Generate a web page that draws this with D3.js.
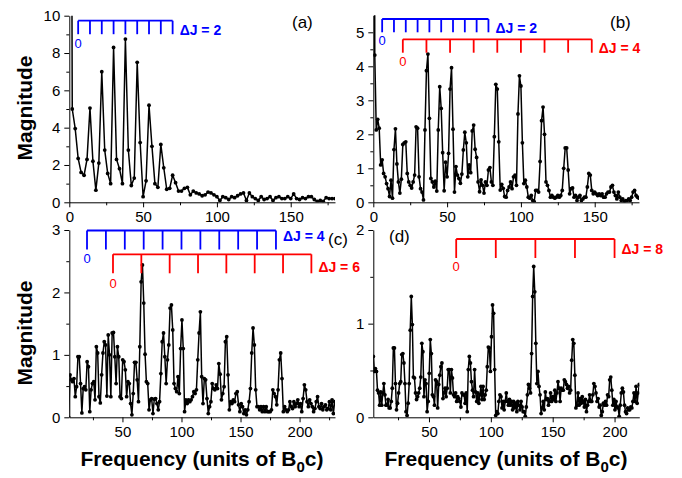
<!DOCTYPE html>
<html>
<head>
<meta charset="utf-8">
<script src="https://cdn.jsdelivr.net/npm/d3@7"></script>
<style>
  body { margin: 0; background: #fff; }
  svg { display: block; font-family: "Liberation Sans", Arial, Helvetica, sans-serif; }
</style>
</head>
<body>
<div id="chart"></div>
<script>
const width = 682;
const height = 478;

// Panel (a): magnitude every 2 units of B0c, starting at 0
const freqStartA = 0, freqStepA = 2;
const magA = [
  60, 5.0, 3.95, 2.35, 1.6, 1.45, 2.3, 5.05, 2.2, 0.65,
  2.1, 7.0, 2.8, 1.55, 1.0, 8.3, 2.3, 1.8, 1.0, 8.75,
  2.8, 0.9, 1.3, 7.5, 3.2, 0.3, 1.15, 5.2, 3.0, 1.0,
  0.8, 3.1, 1.85, 0.7, 0.75, 1.45, 1.05, 0.6, 0.6, 0.75,
  0.8, 0.4, 0.6, 0.5, 0.45, 0.35, 0.4, 0.55, 0.5, 0.4,
  0.3, 0.1, 0.3, 0.25, 0.15, 0.3, 0.25, 0.35, 0.45, 0.5,
  0.1, 0.5, 0.3, 0.2, 0.1, 0.3, 0.15, 0.2, 0.3, 0.1,
  0.25, 0.3, 0.2, 0.2, 0.3, 0.2, 0.45, 0.2, 0.15, 0.25,
  0.2, 0.3, 0.3, 0.15, 0.05, 0.1, 0.05, 0.25, 0.2, 0.2,
  0.2
];

// Panel (b): magnitude every unit, starting at 0
const freqStartB = 0, freqStepB = 1;
const magB = [
  30, 4.33, 2.13, 2.44, 2.18, 1.1, 1.25, 0.85, 0.75, 0.55,
  0.4, 0.17, 0.65, 0.12, 1.55, 2.16, 1.13, 0.6, 0.27, 0.68,
  1.7, 1.75, 1.78, 0.85, 0.6, 0.5, 0.42, 0.6, 0.8, 2.22,
  2.18, 0.75, 0.4, 0.3, 0.07, 2.13, 3.87, 4.36, 2.47, 0.7,
  0.6, 0.45, 0.62, 0.33, 2.13, 3.4, 2.76, 1.46, 0.34, 1.18,
  0.75, 1.44, 3.33, 3.96, 2.15, 0.3, 1.05, 0.8, 0.7, 0.56,
  0.83, 1.54, 2.06, 1.75, 0.75, 1.1, 0.87, 2.1, 2.27, 1.56,
  1.32, 0.6, 0.31, 0.66, 0.5, 0.27, 0.6, 0.5, 0.95, 1.02,
  0.6, 0.5, 1.93, 3.47, 3.33, 1.78, 0.36, 0.53, 0.41, 0.17,
  0.15, 0.35, 0.45, 0.6, 0.4, 0.75, 0.8, 0.5, 2.6, 3.72,
  3.42, 1.75, 0.55, 0.65, 0.45, 0.15, 0.12, 0.2, 0.05, 0.02,
  0.35, 0.35, 0.3, 1.2, 2.4, 2.8, 2.0, 0.6, 0.5, 0.35,
  0.15, 0.2, 0.15, 0.12, 0.15, 0.2, 0.15, 0.2, 0.35, 1.0,
  1.6, 1.6, 0.95, 0.25, 0.4, 0.42, 0.15, 0.2, 0.05, 0.15,
  0.2, 0.05, 0.1, 0.15, 0.15, 0.45, 0.85, 0.8, 0.35, 0.25,
  0.3, 0.25, 0.2, 0.25, 0.2, 0.25, 0.15, 0.15, 0.25, 0.3,
  0.3, 0.45, 0.5, 0.3, 0.2, 0.1, 0.3, 0.15, 0.05, 0.1,
  0.0, 0.05, 0.05, 0.1, 0.05, 0.15, 0.3, 0.35, 0.2, 0.15,
  0.12
];

// Panel (c)
const freqStartC = 4.5, freqStepC = 1.115;
const magC = [
  0.0,
  0.68, 0.6, 0.57, 0.62, 0.33, 0.49, 0.97, 0.97, 0.54, 0.07,
  0.46, 0.49, 0.44, 0.89, 0.81, 0.09, 0.44, 0.54, 0.57, 0.28,
  1.13, 1.03, 0.33, 0.23, 0.68, 1.03, 1.21, 1.16, 0.34, 1.32,
  1.0, 0.33, 1.35, 1.36, 0.97, 0.54, 1.13, 0.97, 0.33, 0.3,
  0.92, 0.89, 0.76, 0.33, 0.57, 0.54, 0.22, 0.04, 0.38, 0.88,
  0.88, 0.6, 0.25, 1.13, 2.17, 2.44, 1.83, 1.01, 0.57, 0.54,
  0.12, 0.28, 0.3, 0.06, 0.29, 0.3, 0.22, 0.12, 0.25, 0.7,
  1.21, 1.35, 0.97, 0.54, 0.92, 1.16, 1.75, 1.8, 1.4, 0.54,
  0.46, 0.41, 0.65, 0.38, 1.1, 1.56, 1.1, 0.09, 0.28, 0.22,
  0.28, 0.25, 0.28, 0.33, 0.41, 0.38, 0.44, 0.92, 1.35, 1.69,
  0.65, 0.22, 0.62, 0.6, 0.3, 0.06, 0.17, 0.25, 0.54, 0.46,
  0.44, 0.52, 0.46, 0.86, 0.69, 0.28, 0.38, 0.49, 1.21, 1.29,
  0.68, 0.12, 0.25, 0.22, 0.28, 0.25, 0.38, 0.41, 0.2, 0.09,
  0.22, 0.17, 0.06, 0.12, 0.04, 0.12, 0.25, 0.46, 1.03, 1.43,
  1.16, 0.44, 0.17, 0.17, 0.12, 0.17, 0.09, 0.17, 0.09, 0.17,
  0.09, 0.09, 0.09, 0.12, 0.44, 0.38, 0.33, 0.2, 0.44, 0.92,
  1.03, 0.62, 0.09, 0.17, 0.12, 0.09, 0.12, 0.25, 0.17, 0.14,
  0.25, 0.17, 0.22, 0.28, 0.17, 0.22, 0.09, 0.3, 0.52, 0.44,
  0.25, 0.17, 0.28, 0.22, 0.17, 0.09, 0.14, 0.25, 0.33, 0.17,
  0.14, 0.22, 0.12, 0.17, 0.2, 0.12, 0.14, 0.25, 0.12, 0.28,
  0.06, 0.25
];

// Panel (d)
const freqStartD = 5, freqStepD = 0.853;
const magD = [
  0.65, 0.49, 0.52, 0.49, 0.29, 0.26, 0.13, 0.27, 0.13, 0.26,
  0.36, 0.24, 0.13, 0.13, 0.19, 0.1, 0.1, 0.17, 0.31, 0.74,
  0.74, 0.36, 0.08, 0.15, 0.26, 0.36, 0.38, 0.67, 0.68, 0.58,
  0.36, 0.06, 0.02, 0.15, 0.36, 0.93, 1.29, 0.99, 0.43, 0.42,
  0.26, 0.19, 0.22, 0.26, 0.31, 0.43, 0.79, 0.7, 0.22, 0.4,
  0.36, 0.06, 0.17, 0.47, 0.83, 0.68, 0.24, 0.22, 0.13, 0.4,
  0.38, 0.1, 0.35, 0.45, 0.54, 0.58, 0.2, 0.26, 0.31, 0.22,
  0.31, 0.51, 0.51, 0.26, 0.51, 0.42, 0.24, 0.22, 0.26, 0.17,
  0.22, 0.2, 0.17, 0.11, 0.26, 0.24, 0.24, 0.15, 0.26, 0.06,
  0.51, 0.65, 0.58, 0.38, 0.29, 0.22, 0.51, 0.27, 0.17, 0.26,
  0.15, 0.24, 0.33, 0.19, 0.33, 0.19, 0.24, 0.29, 0.54, 0.75,
  0.74, 0.49, 0.86, 1.2, 1.11, 0.51, 0.02, 0.06, 0.04, 0.17,
  0.24, 0.22, 0.1, 0.17, 0.08, 0.17, 0.26, 0.17, 0.13, 0.19,
  0.13, 0.17, 0.08, 0.17, 0.1, 0.15, 0.06, 0.17, 0.13, 0.08,
  0.17, 0.11, 0.06, 0.06, 0.01, 0.11, 0.24, 0.35, 0.31, 0.26,
  0.68, 1.29, 1.61, 1.34, 0.79, 0.36, 0.49, 0.33, 0.24, 0.04,
  0.1, 0.17, 0.08, 0.27, 0.19, 0.2, 0.13, 0.17, 0.26, 0.17,
  0.22, 0.19, 0.29, 0.17, 0.26, 0.38, 0.31, 0.17, 0.31, 0.29,
  0.29, 0.4, 0.38, 0.35, 0.31, 0.33, 0.26, 0.29, 0.61, 0.83,
  0.79, 0.45, 0.1, 0.13, 0.26, 0.13, 0.2, 0.15, 0.22, 0.17,
  0.11, 0.19, 0.06, 0.13, 0.17, 0.24, 0.17, 0.17, 0.24, 0.36,
  0.33, 0.26, 0.17, 0.2, 0.11, 0.13, 0.02, 0.06, 0.15, 0.13,
  0.17, 0.13, 0.24, 0.22, 0.4, 0.43, 0.29, 0.13, 0.19, 0.08,
  0.17, 0.11, 0.1, 0.01, 0.13, 0.26, 0.31, 0.27, 0.13, 0.06,
  0.04, 0.1, 0.08, 0.08, 0.11, 0.1, 0.17, 0.26, 0.17, 0.33,
  0.15, 0.26, 0.35
];

// Rotational comb positions (units of B0c)
const combA2 = [6, 14, 22, 30, 38, 46, 54, 62, 70];
const combB2 = [6, 14, 22, 30, 38, 46, 54, 62, 70, 78];
const combB4 = [20, 36, 52, 68, 84, 100, 116, 132, 148];
const combC4 = [20, 36, 52, 68, 84, 100, 116, 132, 148, 164, 180];
const combC6 = [42, 66, 90, 114, 138, 162, 186, 210];
const combD8 = [72, 104, 136, 168, 200];

// Axis ticks
const xMajorAB = [0, 50, 100, 150];
const xMinorAB = [25, 75, 125, 175];
const xMajorCD = [50, 100, 150, 200];
const xMinorC = [25, 75, 125, 175, 225];
const xMinorD = [25, 75, 125, 175];
const yMajorA = [0, 2, 4, 6, 8, 10];
const yMinorA = [1, 3, 5, 7, 9];
const yMajorB = [0, 1, 2, 3, 4, 5];
const yMinorB = [0.5, 1.5, 2.5, 3.5, 4.5];
const yMajorC = [0, 1, 2, 3];
const yMinorC = [0.5, 1.5, 2.5];
const yMajorD = [0, 1, 2];
const yMinorD = [0.5, 1.5];

const blue = "#0000ff";
const red = "#ff0000";

const svg = d3.select("#chart")
  .append("svg")
  .attr("width", width)
  .attr("height", height);

svg.append("rect")
  .attr("width", width)
  .attr("height", height)
  .attr("fill", "#fff");

function drawPanel(p) {
  const x = d3.scaleLinear().domain(p.xDomain).range([p.left, p.right]);
  const y = d3.scaleLinear().domain(p.yDomain).range([p.bottom, p.top]);

  svg.append("clipPath")
    .attr("id", "clip-" + p.id)
    .append("rect")
    .attr("x", p.left)
    .attr("y", p.top)
    .attr("width", p.right - p.left)
    .attr("height", p.bottom - p.top);

  const pts = p.mag.map((v, i) => ({ f: p.start + i * p.step, m: v }));

  const plot = svg.append("g").attr("clip-path", "url(#clip-" + p.id + ")");

  const line = d3.line()
    .x(d => x(d.f))
    .y(d => y(d.m));

  plot.append("path")
    .datum(pts)
    .attr("fill", "none")
    .attr("stroke", "#000")
    .attr("stroke-width", 1.5)
    .attr("stroke-linejoin", "round")
    .attr("d", line);

  plot.selectAll(".dot")
    .data(pts.filter(d => d.m <= p.yDomain[1]))
    .enter()
    .append("circle")
    .attr("cx", d => x(d.f))
    .attr("cy", d => y(d.m))
    .attr("r", 1.9)
    .attr("fill", "#000");

  // minor ticks
  svg.append("g")
    .attr("transform", `translate(0, ${p.bottom})`)
    .call(d3.axisBottom(x).tickValues(p.xMinor).tickSize(3).tickFormat(""))
    .call(g => g.select(".domain").remove());
  svg.append("g")
    .attr("transform", `translate(${p.left}, 0)`)
    .call(d3.axisLeft(y).tickValues(p.yMinor).tickSize(3).tickFormat(""))
    .call(g => g.select(".domain").remove());

  // major axes
  svg.append("g")
    .attr("transform", `translate(0, ${p.bottom})`)
    .attr("class", "axis")
    .call(d3.axisBottom(x).tickValues(p.xMajor).tickSize(5).tickSizeOuter(0).tickPadding(4)
      .tickFormat(d3.format("d")));
  svg.append("g")
    .attr("transform", `translate(${p.left}, 0)`)
    .attr("class", "axis")
    .call(d3.axisLeft(y).tickValues(p.yMajor).tickSize(5).tickSizeOuter(0).tickPadding(4)
      .tickFormat(d3.format("d")));

  // combs
  p.combs.forEach(function(c) {
    const g = svg.append("g")
      .attr("stroke", c.color)
      .attr("stroke-width", 1.8)
      .attr("fill", "none");
    g.append("line")
      .attr("x1", x(c.teeth[0]))
      .attr("x2", x(c.teeth[c.teeth.length - 1]))
      .attr("y1", c.top)
      .attr("y2", c.top);
    g.selectAll(".tooth")
      .data(c.teeth)
      .enter()
      .append("line")
      .attr("x1", d => x(d))
      .attr("x2", d => x(d))
      .attr("y1", c.top)
      .attr("y2", c.top + c.len);

    svg.append("text")
      .attr("x", x(c.teeth[c.teeth.length - 1]) + 7)
      .attr("y", c.labelY)
      .attr("fill", c.color)
      .style("font-size", "14px")
      .style("font-weight", "bold")
      .text(c.label);

    svg.append("text")
      .attr("x", x(c.teeth[0]))
      .attr("y", c.zeroY)
      .attr("text-anchor", "middle")
      .attr("fill", c.color)
      .style("font-size", "13px")
      .text("0");
  });

  svg.append("text")
    .attr("x", p.tagX)
    .attr("y", p.tagY)
    .style("font-size", "17px")
    .text(p.tag);
}

drawPanel({
  id: "a", left: 69.3, right: 335, top: 15.7, bottom: 202.3,
  xDomain: [0, 180], yDomain: [0, 10],
  mag: magA, start: freqStartA, step: freqStepA,
  xMajor: xMajorAB, xMinor: xMinorAB, yMajor: yMajorA, yMinor: yMinorA,
  tag: "(a)", tagX: 292, tagY: 28,
  combs: [
    { teeth: combA2, color: blue, top: 20.7, len: 13.5, label: "\u0394J = 2", labelY: 35, zeroY: 48 }
  ]
});

drawPanel({
  id: "b", left: 373.3, right: 639, top: 15.3, bottom: 202.3,
  xDomain: [0, 180], yDomain: [0, 5.5],
  mag: magB, start: freqStartB, step: freqStepB,
  xMajor: xMajorAB, xMinor: xMinorAB, yMajor: yMajorB, yMinor: yMinorB,
  tag: "(b)", tagX: 610, tagY: 28,
  combs: [
    { teeth: combB2, color: blue, top: 19, len: 13.3, label: "\u0394J = 2", labelY: 32.5, zeroY: 45 },
    { teeth: combB4, color: red, top: 39.3, len: 13.4, label: "\u0394J = 4", labelY: 52.5, zeroY: 66 }
  ]
});

drawPanel({
  id: "c", left: 69.3, right: 335, top: 230, bottom: 417.3,
  xDomain: [5, 230], yDomain: [0, 3],
  mag: magC, start: freqStartC, step: freqStepC,
  xMajor: xMajorCD, xMinor: xMinorC, yMajor: yMajorC, yMinor: yMinorC,
  tag: "(c)", tagX: 328, tagY: 245,
  combs: [
    { teeth: combC4, color: blue, top: 230.5, len: 19, label: "\u0394J = 4", labelY: 241, zeroY: 263 },
    { teeth: combC6, color: red, top: 254.3, len: 19, label: "\u0394J = 6", labelY: 272, zeroY: 288 }
  ]
});

drawPanel({
  id: "d", left: 373.3, right: 639.3, top: 230, bottom: 417.3,
  xDomain: [5, 220], yDomain: [0, 2],
  mag: magD, start: freqStartD, step: freqStepD,
  xMajor: xMajorCD, xMinor: xMinorD, yMajor: yMajorD, yMinor: yMinorD,
  tag: "(d)", tagX: 389, tagY: 242,
  combs: [
    { teeth: combD8, color: red, top: 239, len: 19, label: "\u0394J = 8", labelY: 254, zeroY: 271 }
  ]
});

svg.selectAll(".axis text")
  .attr("font-size", 15)
  .attr("font-family", "'Liberation Sans', Arial, Helvetica, sans-serif")
  .attr("fill", "#000");
svg.selectAll(".axis path, .axis line, .tick line").attr("stroke", "#000");

// Axis titles
[108, 333].forEach(function(cy) {
  svg.append("text")
    .attr("transform", `translate(32, ${cy}) rotate(-90)`)
    .attr("text-anchor", "middle")
    .style("font-size", "21px")
    .style("font-weight", "bold")
    .text("Magnitude");
});

[202, 506].forEach(function(cx) {
  const t = svg.append("text")
    .attr("x", cx)
    .attr("y", 466)
    .attr("text-anchor", "middle")
    .style("font-size", "21px")
    .style("font-weight", "bold");
  t.append("tspan").text("Frequency (units of B");
  t.append("tspan").attr("dy", 6).style("font-size", "15px").text("0");
  t.append("tspan").attr("dy", -6).text("c)");
});
</script>
</body>
</html>
